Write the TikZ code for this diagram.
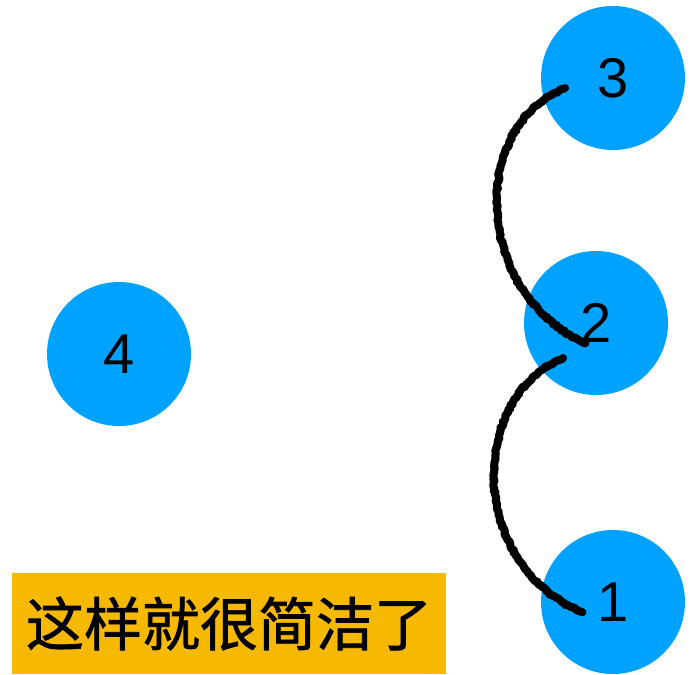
\documentclass[tikz,border=0pt]{standalone}
\usepackage{fontspec}
\setmainfont{Liberation Sans}
\newfontfamily\cjk[FakeBold=1.2]{Noto Sans CJK SC}
\usetikzlibrary{decorations.pathmorphing,calc}
\definecolor{ballblue}{HTML}{00A2FF}
\definecolor{labelyellow}{HTML}{F7B900}
\tikzset{
  ball/.style={circle, fill=ballblue, minimum size=144pt, inner sep=0pt, font=\fontsize{56}{56}\selectfont},
  rough/.style={line width=8pt, line cap=round, line join=round, decorate, decoration={random steps, segment length=2pt, amplitude=1pt}},
  roughthin/.style={line width=2.5pt, line cap=round, line join=round, decorate, decoration={random steps, segment length=1.5pt, amplitude=2.5pt}},
  tag/.style={fill=labelyellow, minimum width=434pt, minimum height=101pt, inner sep=0pt, font=\cjk\fontsize{58}{58}\selectfont}
}
\begin{document}
\begin{tikzpicture}[x=1pt,y=-1pt]
\useasboundingbox (0,0) rectangle (690,674);
\node[ball] (n3) at (613,78) {3};
\node[ball] (n2) at (596,323) {2};
\node[ball] (n4) at (119,354) {4};
\node[ball] (n1) at (613,602) {1};
\node[tag] (t) at (229,623.5) {这样就很简洁了};
\coordinate (s1) at ($(n3.center)+(-48,10)$);
\coordinate (e1) at ($(n2.center)+(-11,20)$);
\coordinate (s2) at ($(n2.center)+(-33,35)$);
\coordinate (e2) at ($(n1.center)+(-31,10)$);
\pgfmathsetseed{7}
\draw[rough] (s1) .. controls (470,125) and (472,292) .. (e1);
\draw[roughthin] (s1) .. controls (470,125) and (472,292) .. (e1);
\draw[rough] (s2) .. controls (468,398) and (468,565) .. (e2);
\draw[roughthin] (s2) .. controls (468,398) and (468,565) .. (e2);
\end{tikzpicture}
\end{document}
